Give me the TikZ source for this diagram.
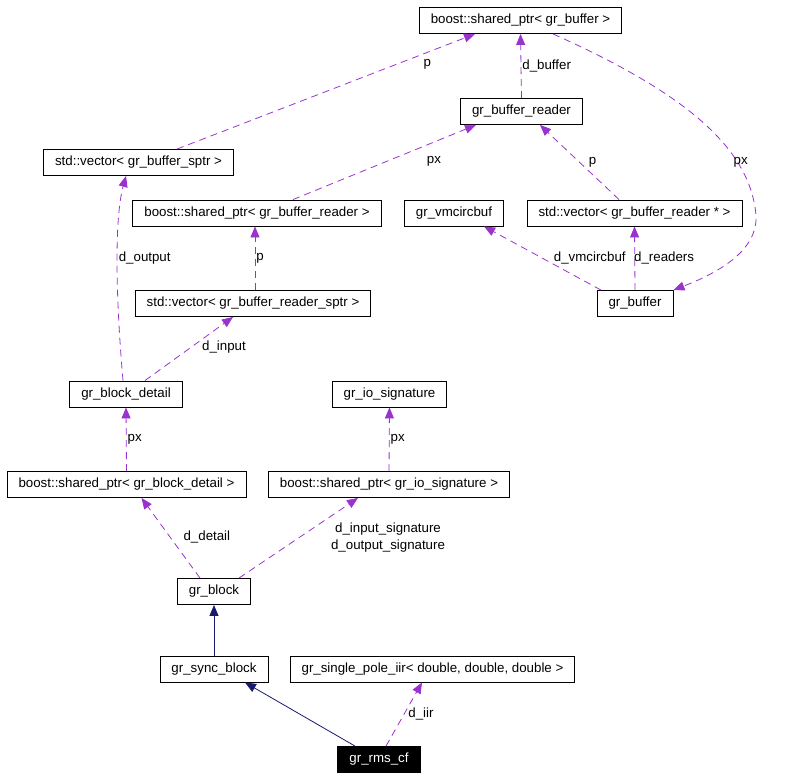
\documentclass[tikz,border=0pt]{standalone}
\usepackage{fontspec}
\setmainfont{Liberation Sans}
\usetikzlibrary{arrows.meta,calc}
\usepackage{xcolor}
\definecolor{usecolor}{HTML}{9A32CD}
\definecolor{inhcolor}{HTML}{191970}

\begin{document}
\begin{tikzpicture}[
    x=1pt, y=-1pt,
    cls/.style={draw, rectangle, line width=0.9pt, inner xsep=11.5pt, inner ysep=0pt, minimum height=26pt, font=\fontsize{13.3}{16}\selectfont},
    focus/.style={cls, fill=black, text=white},
    usage/.style={color=usecolor, line width=0.8pt, dash pattern=on 7pt off 5pt, -{Triangle[length=11pt, width=9pt]}},
    inherit/.style={color=inhcolor, line width=0.8pt, -{Triangle[length=11pt, width=9pt]}},
    lbl/.style={text=black, inner sep=1pt, font=\fontsize{13.3}{17}\selectfont}
]
\useasboundingbox (0,0) rectangle (800,780);

% classes
\node[cls] (sbuf) at (520.5,20.5) {boost::shared\_ptr< gr\_buffer >};
\node[cls] (reader) at (521.5,111.5) {gr\_buffer\_reader};
\node[cls] (vecbuf) at (138.5,162.5) {std::vector< gr\_buffer\_sptr >};
\node[cls] (sreader) at (257,213) {boost::shared\_ptr< gr\_buffer\_reader >};
\node[cls] (vmc) at (454,213) {gr\_vmcircbuf};
\node[cls] (vreader) at (634.5,213) {std::vector< gr\_buffer\_reader * >};
\node[cls] (gbuf) at (635,303.5) {gr\_buffer};
\node[cls] (vrsptr) at (253,303.5) {std::vector< gr\_buffer\_reader\_sptr >};
\node[cls] (bdetail) at (126,394) {gr\_block\_detail};
\node[cls] (iosig) at (389.5,394) {gr\_io\_signature};
\node[cls] (bdsp) at (126.5,484.5) {boost::shared\_ptr< gr\_block\_detail >};
\node[cls] (iosp) at (389,484.5) {boost::shared\_ptr< gr\_io\_signature >};
\node[cls] (gblock) at (214,591.5) {gr\_block};
\node[cls] (gsync) at (214,669) {gr\_sync\_block};
\node[cls] (iir) at (432.5,669) {gr\_single\_pole\_iir< double, double, double >};
\node[focus] (rms) at (379,759.5) {gr\_rms\_cf};

% usage relations
\draw[usage] ([xshift=38.5pt]vecbuf.north) -- node[lbl, pos=0.84, yshift=-12pt] {p} ([xshift=-45.5pt]sbuf.south);
\draw[usage] (reader.north) -- node[lbl, pos=0.5, anchor=west] {d\_buffer} (sbuf.south);
\draw[usage] ([xshift=32.5pt]sbuf.south) .. controls (690,95) and (750,150) .. node[lbl, pos=0.72, xshift=3pt] {px} (756,215) .. controls (758,250) and (720,272) .. (gbuf.north east);
\draw[usage] ([xshift=36pt]sreader.north) -- node[lbl, pos=0.77, yshift=-19pt] {px} ([xshift=-45.5pt]reader.south);
\draw[usage] ([xshift=-15.5pt]vreader.north) -- node[lbl, pos=0.5, xshift=13pt] {p} ([xshift=18.5pt]reader.south);
\draw[usage] ([xshift=-34pt]gbuf.north) -- node[lbl, pos=0.5, anchor=west, xshift=10pt] {d\_vmcircbuf} ([xshift=30pt]vmc.south);
\draw[usage] (gbuf.north) -- node[lbl, pos=0.5, anchor=west, xshift=-2pt] {d\_readers} (vreader.south);
\draw[usage] ([xshift=2pt]vrsptr.north) -- node[lbl, pos=0.5, anchor=west] {p} ([xshift=-2pt]sreader.south);
\draw[usage] ([xshift=-3pt]bdetail.north) .. controls (116,300) and (114,220) .. node[lbl, pos=0.53, anchor=west] {d\_output} ([xshift=-12.5pt]vecbuf.south);
\draw[usage] ([xshift=19pt]bdetail.north) -- node[lbl, pos=0.52, anchor=west, xshift=10pt] {d\_input} ([xshift=-20pt]vrsptr.south);
\draw[usage] (bdsp.north) -- node[lbl, pos=0.5, anchor=west] {px} (bdetail.south);
\draw[usage] (iosp.north) -- node[lbl, pos=0.5, anchor=west] {px} (iosig.south);
\draw[usage] ([xshift=-14pt]gblock.north) -- node[lbl, pos=0.51, anchor=west, xshift=12pt] {d\_detail} ([xshift=15pt]bdsp.south);
\draw[usage] ([xshift=25pt]gblock.north) -- node[lbl, pos=0.51, anchor=west, xshift=30pt, align=center] {d\_input\_signature\\d\_output\_signature} ([xshift=-31pt]iosp.south);
\draw[usage] ([xshift=7pt]rms.north) -- node[lbl, pos=0.5, anchor=west, xshift=3pt] {d\_iir} ([xshift=-10.5pt]iir.south);

% inheritance
\draw[inherit] (gsync.north) -- (gblock.south);
\draw[inherit] ([xshift=-24pt]rms.north) -- ([xshift=31pt]gsync.south);
\end{tikzpicture}
\end{document}
